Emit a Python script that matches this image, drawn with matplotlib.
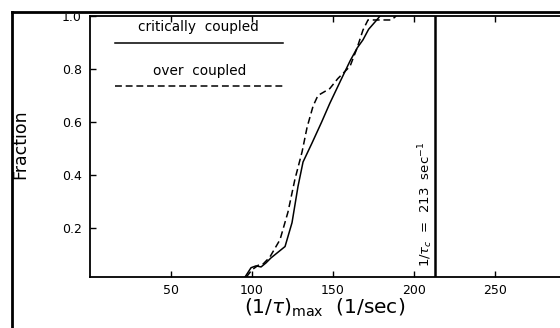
import matplotlib
matplotlib.use('Agg')
import matplotlib.pyplot as plt
from matplotlib.lines import Line2D
from matplotlib.patches import Rectangle

# critically coupled (solid)
crit_x = [95.7, 99.4, 102.5, 105.6, 108.6, 111.7, 120.4, 124.7, 128.4, 131.5, 137.0,
          143.0, 148.0, 155.0, 160.5, 165.0, 168.5, 172.0, 177.0, 179.0]
crit_y = [0.015, 0.05, 0.057, 0.053, 0.068, 0.087, 0.13, 0.22, 0.357, 0.449, 0.52,
          0.60, 0.67, 0.76, 0.83, 0.88, 0.91, 0.95, 0.985, 1.0]

# over coupled (dashed)
over_x = [96.5, 100.0, 104.0, 107.0, 111.0, 117.3, 122.2, 126.5, 130.9, 134.0, 137.7,
          140.7, 148.0, 153.0, 160.5, 164.8, 168.5, 171.6, 186.0, 189.0]
over_y = [0.015, 0.042, 0.06, 0.065, 0.09, 0.156, 0.26, 0.384, 0.487, 0.58, 0.66,
          0.70, 0.726, 0.764, 0.81, 0.878, 0.947, 0.985, 0.985, 1.0]

tau_c = 213
x_ticks = [50, 100, 150, 200, 250]
y_ticks = [0.2, 0.4, 0.6, 0.8, 1.0]

W, H = 560, 328
fig = plt.figure(figsize=(W / 100, H / 100), dpi=100)
fig.patch.set_facecolor('white')

# axes box in pixels: left 90, right 576 (cut off), top 16, bottom 277
ax = fig.add_axes([90 / W, (H - 277) / H, (576 - 90) / W, (277 - 16) / H])
ax.set_xlim(0, 300)
ax.set_ylim(0.015, 1.0)

ax.plot(crit_x, crit_y, color='black', lw=1.1)
ax.plot(over_x, over_y, color='black', lw=1.1, linestyle=(0, (4.5, 2.5)))
ax.axvline(tau_c, color='black', lw=1.8)
ax.text(tau_c - 6, 0.29, r'1/$\tau_c$  =  213  sec$^{-1}$', rotation=90,
        ha='center', va='center', fontsize=9.5)

# legend drawn as in the original: label above the sample line
ax.text(0.222, 0.958, 'critically  coupled', transform=ax.transAxes,
        ha='center', va='center', fontsize=9.8)
ax.plot([0.051, 0.397], [0.897, 0.897], transform=ax.transAxes, color='black', lw=1.1)
ax.text(0.226, 0.789, 'over  coupled', transform=ax.transAxes,
        ha='center', va='center', fontsize=9.8)
ax.plot([0.051, 0.397], [0.732, 0.732], transform=ax.transAxes, color='black', lw=1.1,
        linestyle=(0, (4.5, 2.5)))

ax.set_xticks(x_ticks)
ax.set_xticklabels([str(v) for v in x_ticks])
ax.set_yticks(y_ticks)
ax.set_yticklabels(['%.1f' % v for v in y_ticks])
ax.tick_params(direction='in', length=4, width=1, labelsize=9, top=True, pad=5)
ax.tick_params(axis='y', pad=6)
for s in ax.spines.values():
    s.set_linewidth(1.3)

ax.set_xlabel(r'(1/$\tau$)$_{\mathrm{max}}$  (1/sec)', fontsize=14.5)
ax.xaxis.set_label_coords((325 - 90) / 486, -(308 - 277) / 261)
ax.xaxis.label.set_va('center')
fig.text(20 / W, 1 - 144 / H, 'Fraction', rotation=90, ha='center', va='center', fontsize=12.5)

# scanned page edge: blank strip on top and the outer frame
fig.add_artist(Rectangle((0, 1 - 13.5 / H), 1, 13.5 / H, transform=fig.transFigure,
                         facecolor='white', edgecolor='none', zorder=10))
fig.add_artist(Line2D([12 / W, 1], [1 - 12 / H, 1 - 12 / H], color='black', lw=2, zorder=11))
fig.add_artist(Line2D([12 / W, 12 / W], [0, 1 - 12 / H], color='black', lw=2, zorder=11))

fig.savefig('out.png', dpi=100)
